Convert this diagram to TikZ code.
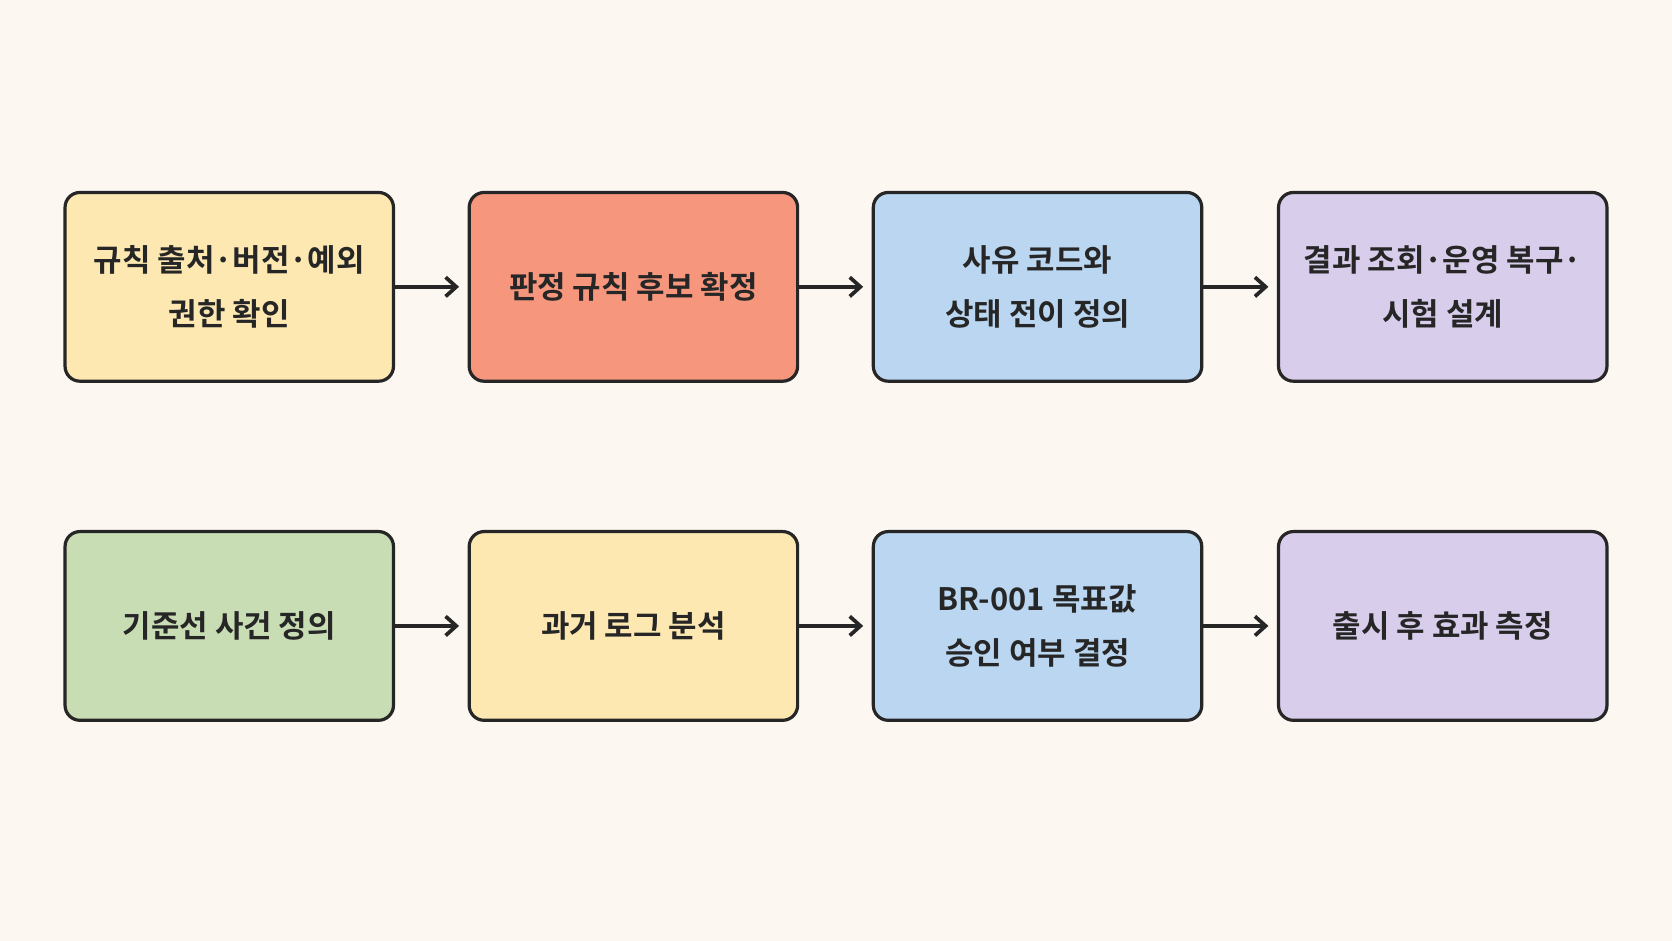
\documentclass[tikz,border=0pt]{standalone}
\usepackage{fontspec}
\newfontfamily\kr{Noto Sans CJK KR}[BoldFont={* Bold}]
\usetikzlibrary{arrows.meta}
\definecolor{bg}{HTML}{FCF7F1}
\definecolor{cy}{HTML}{FDE8B2}
\definecolor{cr}{HTML}{F6967C}
\definecolor{cb}{HTML}{BAD6F1}
\definecolor{cp}{HTML}{D9CDEC}
\definecolor{cg}{HTML}{C9DDB5}
\begin{document}
\begin{tikzpicture}[x=1pt,y=-1pt,
 box/.style={draw=black!85,line width=3pt,rounded corners=14pt,minimum width=308pt,minimum height=177pt,align=center,font=\kr\bfseries\fontsize{29}{50}\selectfont,text=black!85},
 arr/.style={-{Straight Barb[length=10pt,width=18pt]},line width=3.5pt,draw=black!85,shorten >=8pt}]
\fill[bg] (0,0) rectangle (1568,882);
\useasboundingbox (0,0) rectangle (1568,882);
\node[box,fill=cy] (a1) at (215,269) {규칙 출처·버전·예외\\권한 확인};
\node[box,fill=cr] (a2) at (594,269) {판정 규칙 후보 확정};
\node[box,fill=cb] (a3) at (973,269) {사유 코드와\\상태 전이 정의};
\node[box,fill=cp] (a4) at (1353,269) {결과 조회·운영 복구·\\시험 설계};
\node[box,fill=cg] (b1) at (215,587) {기준선 사건 정의};
\node[box,fill=cy] (b2) at (594,587) {과거 로그 분석};
\node[box,fill=cb] (b3) at (973,587) {BR-001 목표값\\승인 여부 결정};
\node[box,fill=cp] (b4) at (1353,587) {출시 후 효과 측정};
\foreach \p/\q in {a1/a2,a2/a3,a3/a4,b1/b2,b2/b3,b3/b4}
  \draw[arr] (\p.east) -- (\q.west);
\end{tikzpicture}
\end{document}
